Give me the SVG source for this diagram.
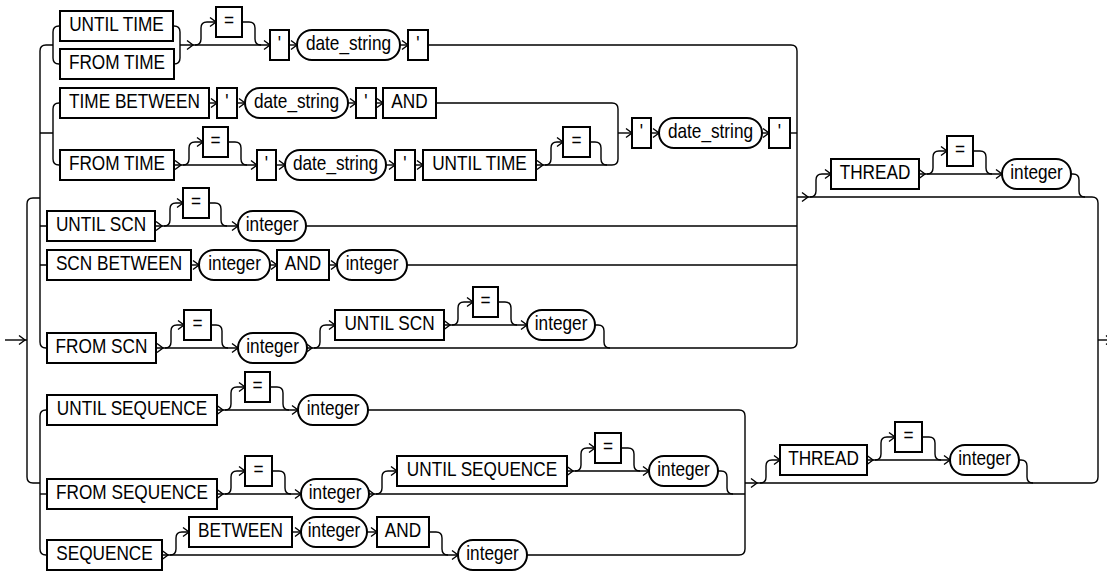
<svg xmlns="http://www.w3.org/2000/svg" xmlns:xlink="http://www.w3.org/1999/xlink" width="1107" height="571" viewBox="0 0 1107 571">
<style>
.c{fill:none;stroke:#000;stroke-width:1.4}
.b{fill:#fff;stroke:#000;stroke-width:2}
.t{font-family:"Liberation Sans",Arial,sans-serif;font-size:21px;fill:#000;text-anchor:middle;transform-box:fill-box;transform-origin:center;transform:scaleX(0.82)}
</style>
<defs>
<path id="a" d="M-6,-4.5 L0,0 L-6,4.5" fill="none" stroke="#000" stroke-width="1.4"/>
</defs>
<rect width="1107" height="571" fill="#fff"/>
<g id="connectors" class="c">
<path d="M5,340 H27"/><use href="#a" x="25" y="340"/>
<path d="M40,198 H33 Q27,198 27,204 V477 Q27,483 33,483 H40"/>
<path d="M53,45 H46 Q40,45 40,51 V342 Q40,348 46,348 H47"/>
<path d="M40,133 H53 M40,226 H47 M40,265 H47"/>
<path d="M60,26 H59 Q53,26 53,32 V58 Q53,64 59,64 H60"/>
<path d="M173,26 H174 Q180,26 180,32 V58 Q180,64 174,64"/>
<path d="M180,45 H270"/><use href="#a" x="193" y="45"/><use href="#a" x="270" y="45"/>
<path d="M195,45 Q201,45 201,39 V28 Q201,22 207,22 H216"/><use href="#a" x="216" y="22"/>
<path d="M242,22 H249 Q255,22 255,28 V39 Q255,45 261,45"/>
<path d="M289,45 H297"/><use href="#a" x="297" y="45"/>
<path d="M400,45 H408"/><use href="#a" x="408" y="45"/>
<path d="M428,45 H791 Q797,45 797,51 V342 Q797,348 791,348 H307"/>
<path d="M60,103 H59 Q53,103 53,109 V159 Q53,165 59,165 H60"/>
<path d="M209,103 H217"/><use href="#a" x="217" y="103"/>
<path d="M237,103 H245"/><use href="#a" x="245" y="103"/>
<path d="M348,103 H356"/><use href="#a" x="356" y="103"/>
<path d="M376,103 H383"/><use href="#a" x="383" y="103"/>
<path d="M436,103 H612 Q618,103 618,109 V159 Q618,165 612,165 H536"/>
<path d="M618,133 H632"/><use href="#a" x="632" y="133"/>
<path d="M651,133 H659"/><use href="#a" x="659" y="133"/>
<path d="M762,133 H769"/><use href="#a" x="769" y="133"/>
<path d="M790,133 H797"/>
<path d="M174,165 H257"/><use href="#a" x="181" y="165"/><use href="#a" x="257" y="165"/>
<path d="M183,165 Q189,165 189,159 V148 Q189,142 195,142 H203"/><use href="#a" x="203" y="142"/>
<path d="M228,142 H235 Q241,142 241,148 V159 Q241,165 247,165"/>
<path d="M276,165 H285"/><use href="#a" x="285" y="165"/>
<path d="M386,165 H395"/><use href="#a" x="395" y="165"/>
<path d="M415,165 H423"/><use href="#a" x="423" y="165"/>
<use href="#a" x="543" y="165"/>
<path d="M545,165 Q551,165 551,159 V148 Q551,142 557,142 H563"/><use href="#a" x="563" y="142"/>
<path d="M590,142 H595 Q601,142 601,148 V159 Q601,165 607,165"/>
<path d="M155,226 H238"/><use href="#a" x="162" y="226"/><use href="#a" x="238" y="226"/>
<path d="M164,226 Q170,226 170,220 V209 Q170,203 176,203 H183"/><use href="#a" x="183" y="203"/>
<path d="M209,203 H215 Q221,203 221,209 V220 Q221,226 227,226"/>
<path d="M306,226 H797"/>
<path d="M191,265 H199"/><use href="#a" x="199" y="265"/>
<path d="M270,265 H277"/><use href="#a" x="277" y="265"/>
<path d="M329,265 H337"/><use href="#a" x="337" y="265"/>
<path d="M407,265 H797"/>
<path d="M156,348 H238"/><use href="#a" x="163" y="348"/><use href="#a" x="238" y="348"/>
<path d="M165,348 Q171,348 171,342 V331 Q171,325 177,325 H184"/><use href="#a" x="184" y="325"/>
<path d="M211,325 H216 Q222,325 222,331 V342 Q222,348 228,348"/>
<use href="#a" x="312" y="348"/>
<path d="M314,348 Q320,348 320,342 V331 Q320,325 326,325 H335"/><use href="#a" x="335" y="325"/>
<path d="M444,325 H527"/><use href="#a" x="450" y="325"/><use href="#a" x="527" y="325"/>
<path d="M452,325 Q458,325 458,319 V308 Q458,302 464,302 H473"/><use href="#a" x="473" y="302"/>
<path d="M498,302 H505 Q511,302 511,308 V319 Q511,325 517,325"/>
<path d="M595,325 H598 Q604,325 604,331 V342 Q604,348 610,348"/>
<path d="M797,197 H1092 Q1098,197 1098,203 V477 Q1098,483 1092,483 H745"/>
<use href="#a" x="808" y="197"/>
<path d="M810,197 Q816,197 816,191 V180 Q816,174 822,174 H831"/><use href="#a" x="831" y="174"/>
<path d="M919,174 H1002"/><use href="#a" x="925" y="174"/><use href="#a" x="1002" y="174"/>
<path d="M927,174 Q933,174 933,168 V157 Q933,151 939,151 H947"/><use href="#a" x="947" y="151"/>
<path d="M973,151 H980 Q986,151 986,157 V168 Q986,174 992,174"/>
<path d="M1071,174 H1073 Q1079,174 1079,180 V191 Q1079,197 1085,197"/>
<path d="M1098,340 H1107"/><use href="#a" x="1112" y="340"/>
<path d="M47,410 H46 Q40,410 40,416 V549 Q40,555 46,555 H47"/>
<path d="M40,494 H47"/>
<path d="M217,410 H298"/><use href="#a" x="223" y="410"/><use href="#a" x="298" y="410"/>
<path d="M225,410 Q231,410 231,404 V393 Q231,387 237,387 H245"/><use href="#a" x="245" y="387"/>
<path d="M270,387 H277 Q283,387 283,393 V404 Q283,410 289,410"/>
<path d="M368,410 H739 Q745,410 745,416 V549 Q745,555 739,555 H527"/>
<path d="M217,494 H301"/><use href="#a" x="223" y="494"/><use href="#a" x="301" y="494"/>
<path d="M225,494 Q231,494 231,488 V477 Q231,471 237,471 H245"/><use href="#a" x="245" y="471"/>
<path d="M272,471 H279 Q285,471 285,477 V488 Q285,494 291,494"/>
<path d="M369,494 H745"/><use href="#a" x="374" y="494"/>
<path d="M376,494 Q382,494 382,488 V477 Q382,471 388,471 H397"/><use href="#a" x="397" y="471"/>
<path d="M567,471 H649"/><use href="#a" x="573" y="471"/><use href="#a" x="649" y="471"/>
<path d="M575,471 Q581,471 581,465 V454 Q581,448 587,448 H595"/><use href="#a" x="595" y="448"/>
<path d="M621,448 H628 Q634,448 634,454 V465 Q634,471 640,471"/>
<path d="M718,471 H721 Q727,471 727,477 V488 Q727,494 733,494"/>
<path d="M162,555 H458"/><use href="#a" x="168" y="555"/><use href="#a" x="458" y="555"/>
<path d="M170,555 Q176,555 176,549 V538 Q176,532 182,532 H189"/><use href="#a" x="189" y="532"/>
<path d="M292,532 H301"/><use href="#a" x="301" y="532"/>
<path d="M367,532 H377"/><use href="#a" x="377" y="532"/>
<path d="M429,532 H436 Q442,532 442,538 V549 Q442,555 448,555"/>
<use href="#a" x="757" y="483"/>
<path d="M760,483 Q766,483 766,477 V466 Q766,460 772,460 H780"/><use href="#a" x="780" y="460"/>
<path d="M867,460 H950"/><use href="#a" x="873" y="460"/><use href="#a" x="950" y="460"/>
<path d="M875,460 Q881,460 881,454 V443 Q881,437 887,437 H895"/><use href="#a" x="895" y="437"/>
<path d="M922,437 H929 Q935,437 935,443 V454 Q935,460 941,460"/>
<path d="M1019,460 H1021 Q1027,460 1027,466 V477 Q1027,483 1033,483"/>
</g>
<g id="n_until_time"><rect class="b" x="60" y="11" width="113" height="30"/><text class="t" x="116.5" y="31.5">UNTIL TIME</text></g>
<g id="n_from_time1"><rect class="b" x="60" y="49" width="114" height="30"/><text class="t" x="117" y="69.5">FROM TIME</text></g>
<g id="eq1"><rect class="b" x="216" y="7" width="26" height="30"/><text class="t" x="229" y="27.5">=</text></g>
<g id="q1"><rect class="b" x="270" y="30" width="19" height="30"/><text class="t" x="279.5" y="50.5">'</text></g>
<g id="ds1"><rect class="b" x="297" y="30" width="103" height="30" rx="15"/><text class="t" x="348.5" y="50.5">date_string</text></g>
<g id="q2"><rect class="b" x="408" y="30" width="20" height="30"/><text class="t" x="418" y="50.5">'</text></g>
<g id="n_time_between"><rect class="b" x="60" y="88" width="149" height="30"/><text class="t" x="134.5" y="108.5">TIME BETWEEN</text></g>
<g id="q3"><rect class="b" x="217" y="88" width="20" height="30"/><text class="t" x="227" y="108.5">'</text></g>
<g id="ds2"><rect class="b" x="245" y="88" width="103" height="30" rx="15"/><text class="t" x="296.5" y="108.5">date_string</text></g>
<g id="q4"><rect class="b" x="356" y="88" width="20" height="30"/><text class="t" x="366" y="108.5">'</text></g>
<g id="and1"><rect class="b" x="383" y="88" width="53" height="30"/><text class="t" x="409.5" y="108.5">AND</text></g>
<g id="n_from_time2"><rect class="b" x="60" y="150" width="114" height="30"/><text class="t" x="117" y="170.5">FROM TIME</text></g>
<g id="eq2"><rect class="b" x="203" y="127" width="25" height="30"/><text class="t" x="215.5" y="147.5">=</text></g>
<g id="q5"><rect class="b" x="257" y="150" width="19" height="30"/><text class="t" x="266.5" y="170.5">'</text></g>
<g id="ds3"><rect class="b" x="285" y="150" width="101" height="30" rx="15"/><text class="t" x="335.5" y="170.5">date_string</text></g>
<g id="q6"><rect class="b" x="395" y="150" width="20" height="30"/><text class="t" x="405" y="170.5">'</text></g>
<g id="n_until_time2"><rect class="b" x="423" y="150" width="113" height="30"/><text class="t" x="479.5" y="170.5">UNTIL TIME</text></g>
<g id="eq3"><rect class="b" x="563" y="127" width="27" height="30"/><text class="t" x="576.5" y="147.5">=</text></g>
<g id="q7"><rect class="b" x="632" y="118" width="19" height="30"/><text class="t" x="641.5" y="138.5">'</text></g>
<g id="ds4"><rect class="b" x="659" y="118" width="103" height="30" rx="15"/><text class="t" x="710.5" y="138.5">date_string</text></g>
<g id="q8"><rect class="b" x="769" y="118" width="21" height="30"/><text class="t" x="779.5" y="138.5">'</text></g>
<g id="n_until_scn"><rect class="b" x="47" y="211" width="108" height="30"/><text class="t" x="101" y="231.5">UNTIL SCN</text></g>
<g id="eq4"><rect class="b" x="183" y="188" width="26" height="30"/><text class="t" x="196" y="208.5">=</text></g>
<g id="int1"><rect class="b" x="238" y="211" width="68" height="30" rx="15"/><text class="t" x="272" y="231.5">integer</text></g>
<g id="n_scn_between"><rect class="b" x="47" y="250" width="144" height="30"/><text class="t" x="119" y="270.5">SCN BETWEEN</text></g>
<g id="int2"><rect class="b" x="199" y="250" width="71" height="30" rx="15"/><text class="t" x="234.5" y="270.5">integer</text></g>
<g id="and2"><rect class="b" x="277" y="250" width="52" height="30"/><text class="t" x="303" y="270.5">AND</text></g>
<g id="int3"><rect class="b" x="337" y="250" width="70" height="30" rx="15"/><text class="t" x="372" y="270.5">integer</text></g>
<g id="n_from_scn"><rect class="b" x="47" y="333" width="109" height="30"/><text class="t" x="101.5" y="353.5">FROM SCN</text></g>
<g id="eq5"><rect class="b" x="184" y="310" width="27" height="30"/><text class="t" x="197.5" y="330.5">=</text></g>
<g id="int4"><rect class="b" x="238" y="333" width="69" height="30" rx="15"/><text class="t" x="272.5" y="353.5">integer</text></g>
<g id="n_until_scn2"><rect class="b" x="335" y="310" width="109" height="30"/><text class="t" x="389.5" y="330.5">UNTIL SCN</text></g>
<g id="eq6"><rect class="b" x="473" y="287" width="25" height="30"/><text class="t" x="485.5" y="307.5">=</text></g>
<g id="int5"><rect class="b" x="527" y="310" width="68" height="30" rx="15"/><text class="t" x="561" y="330.5">integer</text></g>
<g id="thread1"><rect class="b" x="831" y="159" width="88" height="30"/><text class="t" x="875" y="179.5">THREAD</text></g>
<g id="eq7"><rect class="b" x="947" y="136" width="26" height="30"/><text class="t" x="960" y="156.5">=</text></g>
<g id="int6"><rect class="b" x="1002" y="159" width="69" height="30" rx="15"/><text class="t" x="1036.5" y="179.5">integer</text></g>
<g id="n_until_seq"><rect class="b" x="47" y="395" width="170" height="30"/><text class="t" x="132" y="415.5">UNTIL SEQUENCE</text></g>
<g id="eq8"><rect class="b" x="245" y="372" width="25" height="30"/><text class="t" x="257.5" y="392.5">=</text></g>
<g id="int7"><rect class="b" x="298" y="395" width="70" height="30" rx="15"/><text class="t" x="333" y="415.5">integer</text></g>
<g id="n_from_seq"><rect class="b" x="47" y="479" width="170" height="30"/><text class="t" x="132" y="499.5">FROM SEQUENCE</text></g>
<g id="eq9"><rect class="b" x="245" y="456" width="27" height="30"/><text class="t" x="258.5" y="476.5">=</text></g>
<g id="int8"><rect class="b" x="301" y="479" width="68" height="30" rx="15"/><text class="t" x="335" y="499.5">integer</text></g>
<g id="n_until_seq2"><rect class="b" x="397" y="456" width="170" height="30"/><text class="t" x="482" y="476.5">UNTIL SEQUENCE</text></g>
<g id="eq10"><rect class="b" x="595" y="433" width="26" height="30"/><text class="t" x="608" y="453.5">=</text></g>
<g id="int9"><rect class="b" x="649" y="456" width="69" height="30" rx="15"/><text class="t" x="683.5" y="476.5">integer</text></g>
<g id="n_seq"><rect class="b" x="47" y="540" width="115" height="30"/><text class="t" x="104.5" y="560.5">SEQUENCE</text></g>
<g id="between"><rect class="b" x="189" y="517" width="103" height="30"/><text class="t" x="240.5" y="537.5">BETWEEN</text></g>
<g id="int10"><rect class="b" x="301" y="517" width="66" height="30" rx="15"/><text class="t" x="334" y="537.5">integer</text></g>
<g id="and3"><rect class="b" x="377" y="517" width="52" height="30"/><text class="t" x="403" y="537.5">AND</text></g>
<g id="int11"><rect class="b" x="458" y="540" width="69" height="30" rx="15"/><text class="t" x="492.5" y="560.5">integer</text></g>
<g id="thread2"><rect class="b" x="780" y="445" width="87" height="30"/><text class="t" x="823.5" y="465.5">THREAD</text></g>
<g id="eq11"><rect class="b" x="895" y="422" width="27" height="30"/><text class="t" x="908.5" y="442.5">=</text></g>
<g id="int12"><rect class="b" x="950" y="445" width="69" height="30" rx="15"/><text class="t" x="984.5" y="465.5">integer</text></g>
</svg>
